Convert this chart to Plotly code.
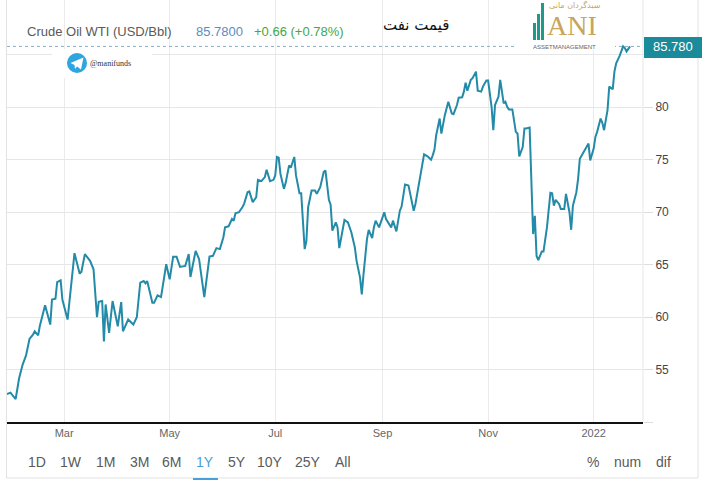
import plotly.graph_objects as go

# WTI crude, 1Y window
dates = [
    "2021-01-27", "2021-01-29",
    "2021-02-01", "2021-02-03", "2021-02-05", "2021-02-07", "2021-02-09", "2021-02-11", "2021-02-12", "2021-02-14",
    "2021-02-15", "2021-02-18", "2021-02-21", "2021-02-22", "2021-02-24", "2021-02-25", "2021-02-27", "2021-02-28",
    "2021-03-03", "2021-03-07", "2021-03-10", "2021-03-11", "2021-03-13", "2021-03-16", "2021-03-18", "2021-03-20",
    "2021-03-21", "2021-03-23", "2021-03-24", "2021-03-25", "2021-03-27", "2021-03-29",
    "2021-04-01", "2021-04-03", "2021-04-04", "2021-04-07", "2021-04-10", "2021-04-12", "2021-04-14", "2021-04-16",
    "2021-04-17", "2021-04-18", "2021-04-21", "2021-04-22", "2021-04-24", "2021-04-26", "2021-04-29",
    "2021-05-01", "2021-05-03", "2021-05-05", "2021-05-07", "2021-05-10", "2021-05-12", "2021-05-13", "2021-05-16",
    "2021-05-18", "2021-05-21", "2021-05-24", "2021-05-26", "2021-05-28", "2021-05-30",
    "2021-06-01", "2021-06-02", "2021-06-04", "2021-06-06", "2021-06-07", "2021-06-08", "2021-06-10", "2021-06-12",
    "2021-06-13", "2021-06-15", "2021-06-16", "2021-06-18", "2021-06-20", "2021-06-21", "2021-06-23", "2021-06-25",
    "2021-06-26", "2021-06-28", "2021-06-30",
    "2021-07-01", "2021-07-02", "2021-07-03", "2021-07-04", "2021-07-06", "2021-07-07", "2021-07-09", "2021-07-10",
    "2021-07-12", "2021-07-13", "2021-07-15", "2021-07-16", "2021-07-18", "2021-07-19", "2021-07-20", "2021-07-22",
    "2021-07-24", "2021-07-25", "2021-07-27", "2021-07-29", "2021-07-30",
    "2021-08-01", "2021-08-02", "2021-08-03", "2021-08-05", "2021-08-06", "2021-08-07", "2021-08-09", "2021-08-10",
    "2021-08-12", "2021-08-14", "2021-08-16", "2021-08-17", "2021-08-19", "2021-08-20", "2021-08-21", "2021-08-23",
    "2021-08-24", "2021-08-26", "2021-08-27", "2021-08-28", "2021-08-30",
    "2021-09-02", "2021-09-03", "2021-09-06", "2021-09-07", "2021-09-09", "2021-09-11", "2021-09-12", "2021-09-14",
    "2021-09-16", "2021-09-17", "2021-09-19", "2021-09-20", "2021-09-22", "2021-09-23", "2021-09-25", "2021-09-27",
    "2021-09-29", "2021-09-30",
    "2021-10-01", "2021-10-02", "2021-10-04", "2021-10-05", "2021-10-07", "2021-10-09", "2021-10-11", "2021-10-12",
    "2021-10-14", "2021-10-15", "2021-10-17", "2021-10-18", "2021-10-19", "2021-10-20", "2021-10-22", "2021-10-23",
    "2021-10-25", "2021-10-26", "2021-10-28", "2021-10-29", "2021-10-31",
    "2021-11-01", "2021-11-03", "2021-11-04", "2021-11-05", "2021-11-07", "2021-11-08", "2021-11-10", "2021-11-11",
    "2021-11-12", "2021-11-13", "2021-11-15", "2021-11-16", "2021-11-17", "2021-11-18", "2021-11-19", "2021-11-21",
    "2021-11-22", "2021-11-23", "2021-11-25", "2021-11-27", "2021-11-28", "2021-11-29", "2021-11-30",
    "2021-12-02", "2021-12-03", "2021-12-05", "2021-12-07", "2021-12-08", "2021-12-09", "2021-12-10", "2021-12-12",
    "2021-12-13", "2021-12-15", "2021-12-16", "2021-12-18", "2021-12-19", "2021-12-20", "2021-12-22", "2021-12-23",
    "2021-12-24", "2021-12-26", "2021-12-28", "2021-12-29", "2021-12-30",
    "2022-01-01", "2022-01-02", "2022-01-03", "2022-01-05", "2022-01-06", "2022-01-07", "2022-01-09", "2022-01-10",
    "2022-01-12", "2022-01-13", "2022-01-14", "2022-01-16", "2022-01-18", "2022-01-19", "2022-01-20", "2022-01-22",
]

close = [
    52.67, 52.80,
    52.19, 54.17, 55.45, 56.34, 57.91, 58.32, 58.64, 58.26,
    59.18, 61.13, 59.28, 61.67, 61.74, 63.33, 63.49, 61.67,
    59.76, 66.08, 64.13, 64.32, 65.99, 65.35, 64.55, 59.98,
    61.45, 61.52, 57.68, 61.20, 58.48, 61.52,
    59.12, 61.42, 58.64, 59.76, 59.28, 59.98, 63.27, 63.43,
    63.21, 63.43, 61.36, 61.36, 62.06, 61.90, 65.03,
    63.59, 65.73, 65.73, 64.77, 64.87, 65.99, 63.81, 66.30,
    65.51, 61.90, 65.76, 65.83, 66.56, 66.47,
    67.58, 68.54, 68.64, 69.34, 69.18, 69.88, 69.98, 70.46,
    70.78, 71.89, 71.96, 70.94, 71.41, 73.07, 72.95, 73.33,
    74.03, 72.95, 73.07,
    73.49, 75.25, 75.18, 73.65, 72.21, 72.76, 74.45, 74.22,
    75.25, 73.49, 71.80, 71.80, 66.47, 67.26, 70.46, 72.05,
    72.05, 71.73, 72.37, 73.81, 73.97,
    71.16, 70.71, 68.22, 69.02, 68.54, 66.56, 68.54, 69.24,
    69.02, 68.06, 66.63, 65.35, 63.75, 62.16, 64.07, 67.42,
    68.29, 67.52, 68.54, 69.18, 68.54,
    69.97, 69.34, 68.54, 69.18, 68.16, 70.13, 70.52, 72.62,
    72.53, 71.73, 70.13, 70.77, 72.69, 73.97, 75.50, 75.31,
    74.99, 75.40,
    75.95, 77.32, 78.91, 77.48, 79.23, 80.51, 79.39, 79.33,
    80.19, 80.89, 80.93, 81.47, 82.33, 81.56, 82.59, 82.75,
    83.38, 81.56, 81.47, 81.95, 82.52,
    82.52, 80.03, 77.80, 80.19, 80.99, 82.59, 80.35, 80.51,
    80.03, 79.78, 79.78, 78.76, 77.64, 77.48, 75.30, 76.20,
    77.96, 77.96, 78.05, 67.90, 69.65, 65.82, 65.41,
    66.24, 66.24, 68.54, 71.83, 71.79, 70.61, 71.16, 70.77,
    70.30, 70.30, 71.73, 69.98, 68.31, 70.61, 71.89, 73.17,
    75.08, 75.63, 76.20, 76.52, 74.92,
    76.04, 77.16, 77.64, 78.91, 78.50, 77.80, 79.71, 81.95,
    81.69, 83.38, 84.18, 84.88, 85.78, 85.62, 85.30, 85.78,
]
assert len(dates) == len(close)

last_price = 85.78
header_name = "Crude Oil WTI (USD/Bbl)"
header_price = "85.7800"
header_change = "+0.66 (+0.78%)"
title_fa = "قیمت نفت"

month_ticks = ["2021-03-01", "2021-05-01", "2021-07-01", "2021-09-01", "2021-11-01", "2022-01-01"]
month_labels = ["Mar", "May", "Jul", "Sep", "Nov", "2022"]
price_ticks = [50, 55, 60, 65, 70, 75, 80, 85]
price_labels = ["", "55", "60", "65", "70", "75", "80", ""]

range_buttons = ["1D", "1W", "1M", "3M", "6M", "1Y", "5Y", "10Y", "25Y", "All"]
mode_buttons = ["%", "num", "dif"]

# pixel helpers (plot area is x 7..643, y 0..422)
def px(x):
    return (x - 7) / 636.0


def py(y):
    return (422 - y) / 422.0


LINE = "#238aa8"
BOX = "#1a8b9b"
GREY = "#5a5a5a"

fig = go.Figure()
fig.add_trace(go.Scatter(
    x=dates, y=close, mode="lines",
    line=dict(color=LINE, width=2),
    hoverinfo="x+y",
))

shapes = []
# widget frame
shapes.append(dict(type="rect", xref="paper", yref="paper", x0=px(6.5), x1=px(698), y0=py(478), y1=py(-4),
                   line=dict(color="#e2e2e2", width=1), layer="below"))
# right edge of plot
shapes.append(dict(type="line", xref="paper", yref="paper", x0=1, x1=1, y0=0, y1=1,
                   line=dict(color="#e6e6e6", width=1), layer="below"))
# last price dotted line
shapes.append(dict(type="line", xref="paper", yref="y", x0=0, x1=1, y0=last_price, y1=last_price,
                   line=dict(color="#8aaec4", width=1, dash="dot")))
# price tag
shapes.append(dict(type="rect", xref="paper", yref="paper", x0=px(644), x1=px(702), y0=py(58), y1=py(37),
                   fillcolor=BOX, line=dict(width=0)))
# watermark backgrounds
shapes.append(dict(type="rect", xref="paper", yref="paper", x0=px(52), x1=px(152), y0=py(78), y1=py(49),
                   fillcolor="white", line=dict(width=0), layer="above"))
shapes.append(dict(type="rect", xref="paper", yref="paper", x0=px(514), x1=px(615), y0=py(50), y1=py(-2),
                   fillcolor="white", line=dict(width=0), layer="above"))
# telegram icon
shapes.append(dict(type="circle", xref="paper", yref="paper", x0=px(67), x1=px(87), y0=py(73), y1=py(53),
                   fillcolor="#2ca5e0", line=dict(width=0), layer="above"))
plane = [(70.5, 63), (83.5, 57.5), (81, 69.5), (77, 66.5), (75, 69), (74.5, 65)]
path = "M " + " L ".join("%.5f,%.5f" % (px(a), py(b)) for a, b in plane) + " Z"
shapes.append(dict(type="path", xref="paper", yref="paper", path=path,
                   fillcolor="white", line=dict(width=0), layer="above"))
# logo bars
for x0, x1, top in [(533, 536, 23), (537, 540, 14), (541, 544, 3)]:
    shapes.append(dict(type="rect", xref="paper", yref="paper", x0=px(x0), x1=px(x1), y0=py(40), y1=py(top),
                       fillcolor="#1f9a8a", line=dict(width=0), layer="above"))
# 1Y underline
shapes.append(dict(type="line", xref="paper", yref="paper", x0=px(193), x1=px(218), y0=py(479), y1=py(479),
                   line=dict(color="#4a9fd8", width=2)))

ann = []


def text(x, y, s, size, color, anchor="left", family="Liberation Sans, Arial, sans-serif", **kw):
    ann.append(dict(xref="paper", yref="paper", x=px(x), y=py(y), text=s, showarrow=False,
                    xanchor=anchor, yanchor="middle", font=dict(size=size, color=color, family=family),
                    borderpad=0, **kw))


text(26, 31, header_name, 13, GREY)
text(195, 31, header_price, 13, "#5b8cc4")
text(253, 31, header_change, 13, "#43a843")
text(416, 25, title_fa, 15, "#111", anchor="center", family="DejaVu Sans, Noto Sans, sans-serif")
text(89, 63, "@manifunds", 8, "#333", family="Liberation Serif, serif")
text(673, 47, "85.780", 13, "white", anchor="center")
text(572, 26, "ANI", 28, "#c9a55c", anchor="center", family="Liberation Serif, serif")
text(575, 5, "سبدگردان مانی", 8, "#c9a55c", anchor="center", family="DejaVu Sans, sans-serif")
text(564, 46.5, "ASSETMANAGEMENT", 6, "#666", anchor="center")

button_x = [37, 71, 105, 139, 171, 205, 237, 270, 308, 343]
for bx, label in zip(button_x, range_buttons):
    text(bx, 462, label, 14, "#4a9fd8" if label == "1Y" else GREY, anchor="center")
for bx, label in zip([593, 627, 663], mode_buttons):
    text(bx, 462, label, 14, GREY, anchor="center")

fig.update_layout(
    width=706, height=483,
    margin=dict(l=7, r=63, t=0, b=61),
    paper_bgcolor="white", plot_bgcolor="white",
    showlegend=False,
    shapes=shapes, annotations=ann,
    font=dict(family="Liberation Sans, Arial, sans-serif"),
    xaxis=dict(
        range=["2021-01-27", "2022-01-29 12:00"],
        tickvals=month_ticks, ticktext=month_labels,
        showgrid=True, gridcolor="#ebebeb", gridwidth=1,
        showline=True, linecolor="#111", linewidth=1.5,
        ticks="", tickfont=dict(size=11, color="#666"),
        zeroline=False, fixedrange=True,
    ),
    yaxis=dict(
        range=[50, 90.2], side="right",
        tickvals=price_ticks, ticktext=price_labels,
        showgrid=True, gridcolor="#e6e6e6", gridwidth=1,
        ticks="outside", ticklen=9, tickcolor="#dddddd",
        tickfont=dict(size=12, color="#444"),
        zeroline=False, showline=False, fixedrange=True,
    ),
)

# the page body has a default margin; drop it so the chart sits at 0,0
fig.write_html("out.html", config={"displayModeBar": False},
               post_script="document.body.style.margin='0px';")
